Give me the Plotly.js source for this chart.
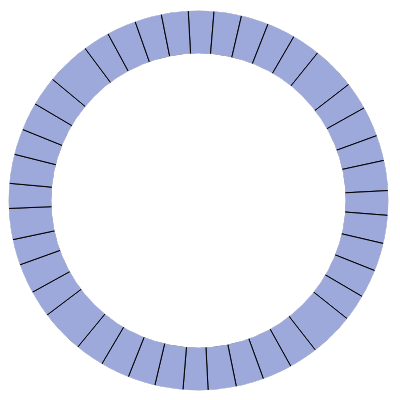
<!DOCTYPE html>
<html>
<head>
<meta charset="utf-8">
<script src="https://cdn.plot.ly/plotly-3.0.1.min.js"></script>
<style>html,body{margin:0;padding:0;background:#fff;}#chart{width:400px;height:400px;}</style>
</head>
<body>
<div id="chart"></div>
<script>
// Slice labels (not displayed) and slice sizes (degrees of arc)
var sliceLabels = ['S1','S2','S3','S4','S5','S6','S7','S8','S9','S10',
                   'S11','S12','S13','S14','S15','S16','S17','S18','S19','S20',
                   'S21','S22','S23','S24','S25','S26','S27','S28','S29','S30',
                   'S31','S32','S33','S34','S35','S36','S37','S38','S39','S40'];
var sliceValues = [7.8, 8.4, 8.4, 8.7, 8.7, 13.4, 8.5, 9.2, 7.8, 9.2,
                   7.5, 8.6, 8.6, 8.7, 8.1, 13.5, 8.9, 9.1, 8.5, 8.6,
                   7.6, 8.6, 8.4, 8.9, 8.9, 13.4, 8.2, 9.1, 7.9, 9.5,
                   7.6, 8.9, 7.9, 8.6, 9.1, 13.6, 8.2, 9.0, 8.2, 8.2];
var sliceColor = '#9da8db';

var colors = sliceValues.map(function(){ return sliceColor; });

var main = {
  type: 'pie',
  labels: sliceLabels,
  values: sliceValues,
  sort: false,
  direction: 'clockwise',
  rotation: 356.9,
  hole: 0.769,
  textinfo: 'none',
  hoverinfo: 'none',
  showlegend: false,
  domain: {x: [0.0052, 0.9948], y: [0.0052, 0.9948]},
  marker: {colors: colors, line: {color: '#000000', width: 1}}
};
// white masks hiding the arc outlines so only the radial separators show
var outerMask = {
  type: 'pie', labels: ['m1'], values: [1], sort: false,
  hole: 0.9855, textinfo: 'none', hoverinfo: 'none', showlegend: false,
  domain: {x: [0, 1], y: [0, 1]},
  marker: {colors: ['#ffffff'], line: {width: 0}}
};
var innerMask = {
  type: 'pie', labels: ['m2'], values: [1], sort: false,
  hole: 0.982, textinfo: 'none', hoverinfo: 'none', showlegend: false,
  domain: {x: [0.11766, 0.88234], y: [0.11766, 0.88234]},
  marker: {colors: ['#ffffff'], line: {width: 0}}
};

Plotly.newPlot('chart', [main, outerMask, innerMask], {
  width: 400, height: 400,
  margin: {l: 6, r: 9, t: 8, b: 7, pad: 0},
  paper_bgcolor: '#ffffff',
  plot_bgcolor: '#ffffff',
  showlegend: false
}, {displayModeBar: false, staticPlot: true});
</script>
</body>
</html>
